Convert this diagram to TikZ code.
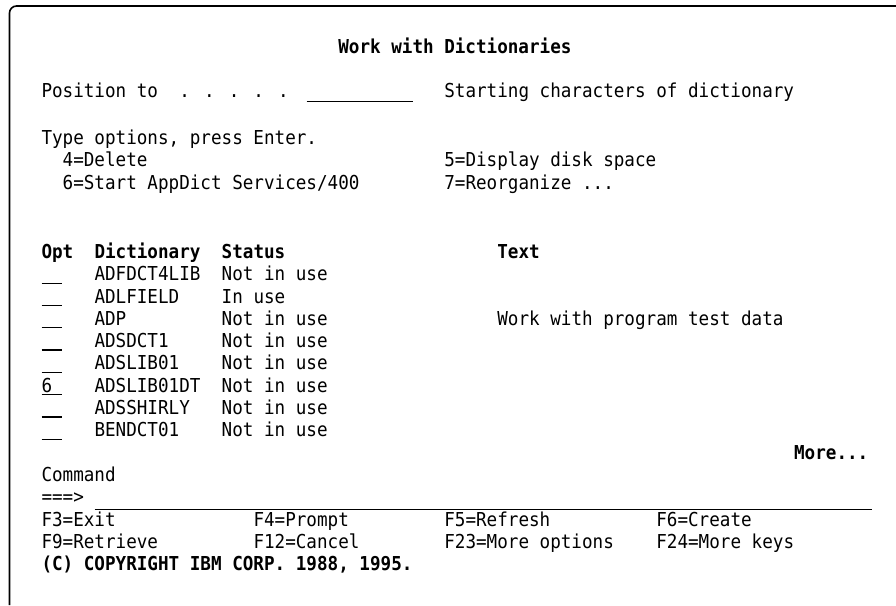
\documentclass[tikz,border=0pt]{standalone}
\usepackage{fontspec}
\setmainfont[FakeStretch=0.917]{DejaVu Sans Mono}
\tikzset{
  scr/.style={anchor=base west, inner sep=0pt, outer sep=0pt,
    font=\fontsize{19.2}{22}\selectfont},
  scrb/.style={scr, font=\fontsize{19.2}{22}\selectfont\bfseries},
  field/.style={line width=1.3pt},
  frame/.style={line width=1.6pt, rounded corners=7pt}
}
\begin{document}
\begin{tikzpicture}[x=1pt, y=-1pt]
\useasboundingbox (0,0) rectangle (896,605);
% window frame
\draw[frame] (896,6) -- (9.5,6) -- (9.5,605);

% column x positions (10.6pt per screen column)
\pgfmathsetmacro\cA{41.5}
\pgfmathsetmacro\cB{41.5+10.6*2}
\pgfmathsetmacro\cDots{41.5+10.6*13}
\pgfmathsetmacro\cE{41.5+10.6*5}
\pgfmathsetmacro\cQ{41.5+10.6*17}
\pgfmathsetmacro\cT{41.5+10.6*20}
\pgfmathsetmacro\cFa{41.5+10.6*25}
\pgfmathsetmacro\cFb{41.5+10.6*35}
\pgfmathsetmacro\cTitle{41.5+10.6*28}
\pgfmathsetmacro\cR{41.5+10.6*38}
\pgfmathsetmacro\cX{41.5+10.6*43}
\pgfmathsetmacro\cK{41.5+10.6*58}
\pgfmathsetmacro\cM{41.5+10.6*71}
\pgfmathsetmacro\cU{41.5+10.6*2-1}

% title
\node[scrb] (title) at (\cTitle,53) {Work with Dictionaries};

% position-to line
\node[scr] (posto) at (\cA,97.5) {Position to};
\node[scr] (posdots) at (\cDots,97.5) {. . . . .};
\coordinate (posf1) at (\cFa,101.5);
\coordinate (posf2) at (\cFb,101.5);
\draw[field] (posf1) -- (posf2);
\node[scr] (poshelp) at (\cR,97.5) {Starting characters of dictionary};

% options
\node[scr] (typeopt) at (\cA,144) {Type options, press Enter.};
\node[scr] (opt4) at (\cB,166.5) {4=Delete};
\node[scr] (opt5) at (\cR,166.5) {5=Display disk space};
\node[scr] (opt6) at (\cB,189) {6=Start AppDict Services/400};
\node[scr] (opt7) at (\cR,189) {7=Reorganize ...};

% column headings
\node[scrb] (hopt) at (\cA,258.4) {Opt};
\node[scrb] (hdict) at (\cE,258.4) {Dictionary};
\node[scrb] (hstat) at (\cQ,258.4) {Status};
\node[scrb] (htext) at (\cX,258.4) {Text};

% list entries with their option fields
\foreach \i/\nm/\st in {0/ADFDCT4LIB/Not in use, 1/ADLFIELD/In use,
  2/ADP/Not in use, 3/ADSDCT1/Not in use, 4/ADSLIB01/Not in use,
  5/ADSLIB01DT/Not in use, 6/ADSSHIRLY/Not in use, 7/BENDCT01/Not in use}{
  \pgfmathsetmacro\yb{280.7+22.3*\i}
  \pgfmathsetmacro\yu{\yb+2.5}
  \node[scr] (dict\i) at (\cE,\yb) {\nm};
  \node[scr] (stat\i) at (\cQ,\yb) {\st};
  \coordinate (fa\i) at (\cA,\yu);
  \coordinate (fb\i) at (\cU,\yu);
  \draw[field] (fa\i) -- (fb\i);
}
\pgfmathsetmacro\ySix{280.7+22.3*5}
\pgfmathsetmacro\yAdp{280.7+22.3*2}
\node[scr] (optval) at (\cA,\ySix) {6};
\node[scr] (text2) at (\cX,\yAdp) {Work with program test data};

\node[scrb] (more) at (\cM,459.1) {More...};

% command line
\node[scr] (cmd) at (\cA,481.4) {Command};
\node[scr] (prompt) at (\cA,503.7) {===>};
\coordinate (cmd1) at (\cE,509.3);
\coordinate (cmd2) at (872,509.3);
\draw[field] (cmd1) -- (cmd2);

% function keys
\node[scr] (f3) at (\cA,526) {F3=Exit};
\node[scr] (f4) at (\cT,526) {F4=Prompt};
\node[scr] (f5) at (\cR,526) {F5=Refresh};
\node[scr] (f6) at (\cK,526) {F6=Create};
\node[scr] (f9) at (\cA,548.3) {F9=Retrieve};
\node[scr] (f12) at (\cT,548.3) {F12=Cancel};
\node[scr] (f23) at (\cR,548.3) {F23=More options};
\node[scr] (f24) at (\cK,548.3) {F24=More keys};

\node[scrb] (copy) at (\cA,570.6) {(C) COPYRIGHT IBM CORP. 1988, 1995.};
\end{tikzpicture}
\end{document}
